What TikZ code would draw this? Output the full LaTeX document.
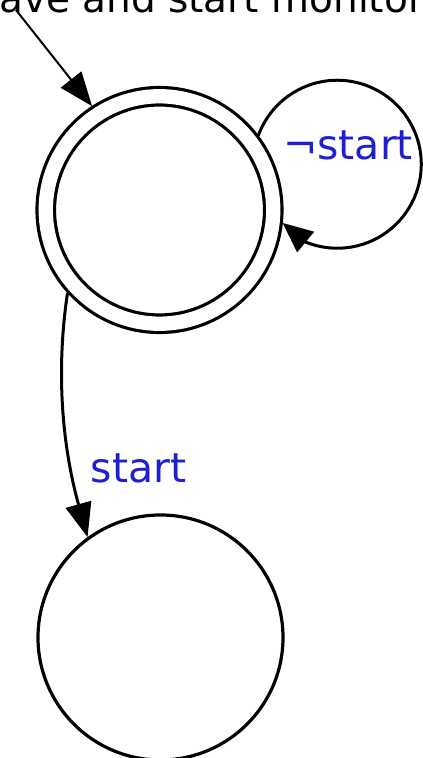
\documentclass[tikz,border=0pt]{standalone}
\usepackage{fontspec}
\setmainfont{DejaVu Sans}
\usetikzlibrary{arrows.meta}
\definecolor{lbl}{RGB}{30,30,210}
\begin{document}
\begin{tikzpicture}[x=1pt,y=1pt,
  state/.style={circle,draw,line width=3.2pt,minimum size=245pt,inner sep=0pt},
  accept/.style={circle,draw,line width=3.2pt,double,double distance=14.3pt,minimum size=227.5pt,inner sep=0pt,outer sep=10pt},
  edge/.style={line width=3pt,-{Triangle[length=34pt,width=26pt]}},
  lab/.style={text=lbl,font=\fontsize{41}{45}\selectfont,inner sep=0pt}]
\useasboundingbox (0,0) rectangle (423,758);
\clip (0,0) rectangle (423,758);
\node[anchor=base west,font=\fontsize{39}{44}\selectfont,inner sep=0pt] (title) at (-1,745) {ave and start monitor};
\node[accept] (q0) at (159.5,548) {};
\node[state] (q1) at (160.5,120.5) {};
\coordinate (init) at (16,748);
\draw[line width=2pt,-{Triangle[length=34pt,width=26pt]}] (init) -- (q0.123.5);
\draw[line width=3pt,-{Triangle[length=30pt,width=26pt]}] (q0.37) arc[start angle=160,end angle=-112,radius=84pt] -- (q0.-6);
\draw[edge] (q0.222) .. controls +(-12,-80) and +(-25,90) .. (q1.126);
\node[lab,anchor=base] (l1) at (138.5,275) {start};
\node[lab,anchor=base] (l2) at (348,598) {¬start};
\end{tikzpicture}
\end{document}
